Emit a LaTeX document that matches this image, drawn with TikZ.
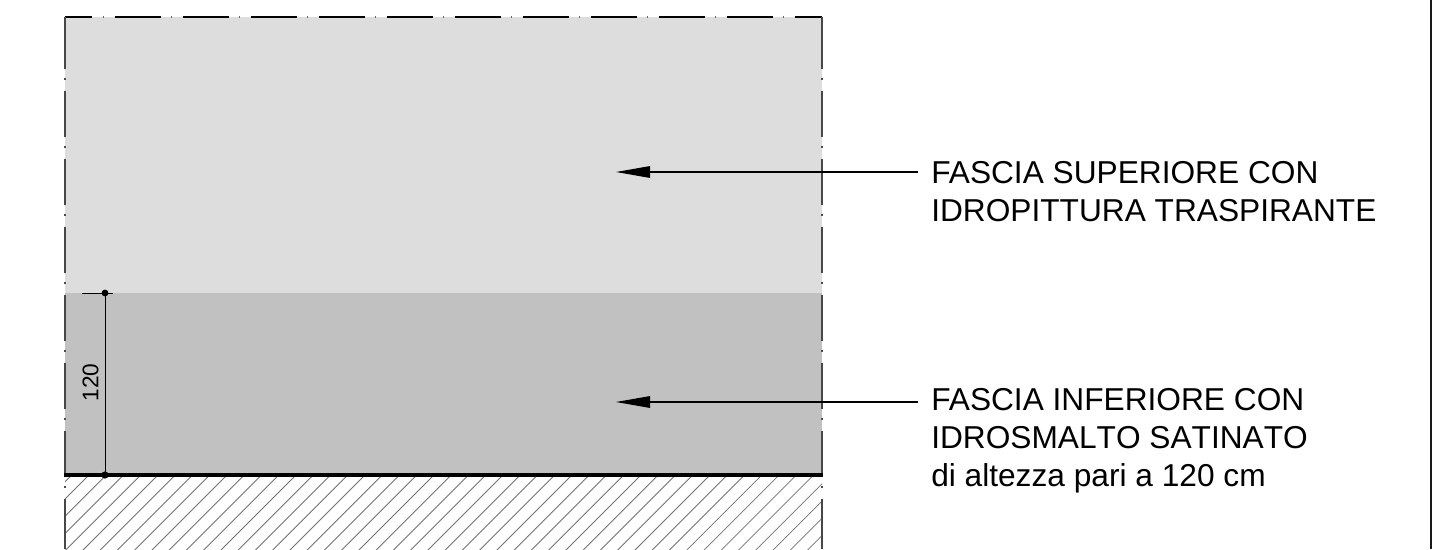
\documentclass[tikz,border=0pt]{standalone}
\usepackage{fontspec}
\setmainfont{Liberation Sans}
\usetikzlibrary{arrows.meta}
\tikzset{
  labeltext/.style={anchor=base west,inner sep=0pt,font=\fontsize{23.75pt}{28pt}\selectfont},
  dimtext/.style={inner sep=0pt,rotate=90,font=\fontsize{17pt}{20pt}\selectfont},
  leader/.style={line width=0.8pt,-{Triangle[length=25.5pt,width=8.7pt]}},
  border/.style={line width=0.85pt,black!72},
  hatchline/.style={line width=0.55pt,black!55},
  dimline/.style={line width=0.75pt,black}
}
\begin{document}
\begin{tikzpicture}[x=0.75pt,y=-0.75pt]
\useasboundingbox (0,0) rectangle (1433,549);
\fill[white] (0,0) rectangle (1433,549);
\fill[black!13.5] (65,17) rectangle (822,293);
\fill[black!24.5] (65,293) rectangle (822,475);
% hatch
\begin{scope}
\clip (65,475) rectangle (822,549);
\foreach \i in {0,...,50}{
  \pgfmathsetmacro{\xa}{89+17.25*\i-17.25}
  \draw[hatchline] (\xa,475) -- ({\xa-80},555);
}
\end{scope}
% top dash-dot border
\draw[line width=0.9pt,black] (65,17) -- (92,17);
\foreach \i in {0,...,9}{
  \pgfmathsetmacro{\xa}{115+68*\i}
  \pgfmathsetmacro{\xb}{\xa+46}
  \draw[line width=0.9pt,black] (\xa,17) -- (\xb,17);
}
\draw[line width=0.9pt,black] (795,17) -- (822,17);
\foreach \i in {0,...,10}{
  \pgfmathsetmacro{\xa}{103.5+68*\i}
  \draw[line width=0.6pt,black!60] (\xa,16) -- (\xa,18);
}
% side dash-dot borders
\foreach \xs in {65,822}{
  \draw[border] (\xs,17) -- (\xs,69);
  \foreach \i in {0,...,5}{
    \pgfmathsetmacro{\ya}{91+68*\i}
    \pgfmathsetmacro{\yb}{\ya+46}
    \draw[border] (\xs,\ya) -- (\xs,\yb);
  }
  \draw[border] (\xs,499) -- (\xs,549);
  \foreach \i in {0,...,6}{
    \pgfmathsetmacro{\ya}{79+68*\i}
    \fill[black!70] ({\xs-0.7},\ya-0.7) rectangle ({\xs+0.7},\ya+0.7);
  }
}
% floor line
\draw[line width=2.6pt,black] (64,475) -- (823,475);
% far right rule
\draw[line width=1.5pt,black!90] (1431,0) -- (1431,549);
% dimension
\coordinate (dimtop) at (105,293);
\coordinate (dimbot) at (105,475);
\coordinate (tickl) at (82,293);
\coordinate (tickr) at (113,293);
\draw[dimline] (dimtop) -- (dimbot);
\draw[dimline] (tickl) -- (tickr);
\fill (dimtop) circle (3.4);
\fill (dimbot) circle (3.6);
\node[dimtext] (dimlabel) at (90.5,382.5) {120};
% labels
\node[labeltext] (upa) at (931,183) {FASCIA SUPERIORE CON};
\node[labeltext] (upb) at (931,221) {IDROPITTURA TRASPIRANTE};
\node[labeltext] (loa) at (931,410.5) {FASCIA INFERIORE CON};
\node[labeltext] (lob) at (931,448) {\addfontfeature{Kerning=Off}IDROSMALTO SATINATO};
\node[labeltext] (loc) at (931,486) {di altezza pari a 120 cm};
% leaders
\coordinate (upfrom) at (918,172);
\coordinate (upto) at (616,172);
\coordinate (lofrom) at (918,402);
\coordinate (loto) at (616,402);
\draw[leader] (upfrom) -- (upto);
\draw[leader] (lofrom) -- (loto);
\end{tikzpicture}
\end{document}
